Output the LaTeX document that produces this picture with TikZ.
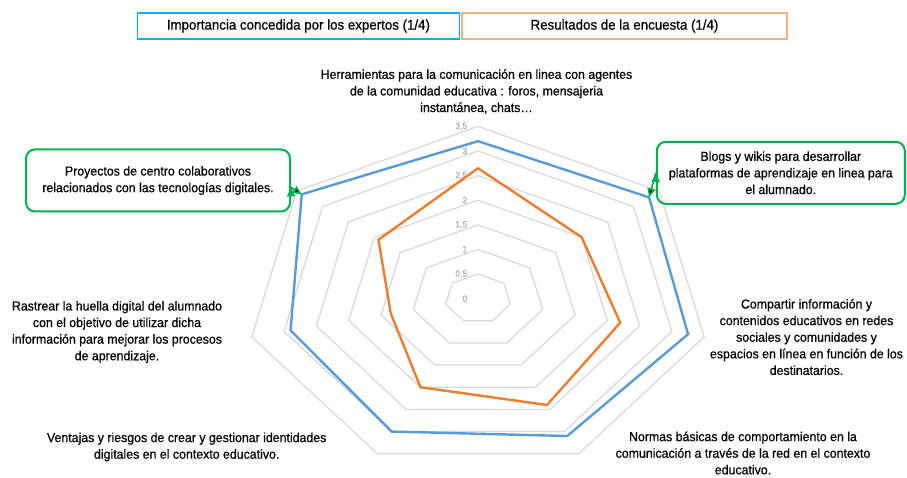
\documentclass[tikz,border=0pt]{standalone}
\usepackage{fontspec}
\setmainfont{Liberation Sans}[FakeStretch=0.95, FakeBold=0.6]
\usetikzlibrary{arrows.meta}
\definecolor{serieblue}{RGB}{91,155,213}
\definecolor{serieorange}{RGB}{237,125,49}
\definecolor{legblue}{RGB}{0,176,240}
\definecolor{legorange}{RGB}{244,177,131}
\definecolor{callgreen}{RGB}{0,176,80}
\definecolor{gridgray}{RGB}{217,217,217}
\begin{document}
\begin{tikzpicture}[x=1pt,y=-1pt,
        lbl/.style={align=center, inner sep=0pt, font=\fontsize{13}{16.6}\selectfont},
        legbox/.style={draw, line width=1.5pt, minimum height=26pt, font=\fontsize{14}{16}\selectfont},
        callbox/.style={draw=callgreen, line width=2pt, rounded corners=9pt, minimum height=62pt, align=center, font=\fontsize{13}{16.6}\selectfont},
        callarrow/.style={draw=callgreen, line width=1.6pt, -{Triangle[length=9pt,width=8pt]}},
        ring/.style={draw=gridgray, line width=1.3pt},
        ringtxt/.style={anchor=east, inner sep=0pt, text=gray!65, font=\fontsize{9}{10}\selectfont},
        serie/.style={line width=2.4pt, line join=miter}]
    \useasboundingbox (0,0) rectangle (907,478);

    \node[legbox, draw=legblue, minimum width=322pt]   (EXP) at (298.4,26) {Importancia concedida por los expertos (1/4)};
    \node[legbox, draw=legorange, minimum width=325pt] (ENC) at (624.5,26) {Resultados de la encuesta (1/4)};

    \begin{scope}[shift={(478,298.6)}, x=66.3pt, y=49.2pt]
        \foreach \r in {0.5,1,...,3.5}
            \draw[ring] (90:\r) \foreach \k in {1,...,6} { -- ({90-\k*360/7}:\r) } -- cycle;
        \foreach \r/\t in {0/0, 0.5/{0,5}, 1/1, 1.5/{1,5}, 2/2, 2.5/{2,5}, 3/3, 3.5/{3,5}}
            \node[ringtxt] (R\r) at (-0.16,\r) {\t};

        \foreach \v [count=\k from 0] in {2.65,2.0,2.2,2.4,2.0,1.35,1.92}
            \coordinate (o\k) at ({90-\k*360/7}:\v);
        \foreach \v [count=\k from 0] in {3.2,3.3,3.25,3.1,3.0,2.9,3.4}
            \coordinate (b\k) at ({90-\k*360/7}:\v);
        \draw[serie, serieorange] (o0) -- (o1) -- (o2) -- (o3) -- (o4) -- (o5) -- (o6) -- cycle;
        \draw[serie, serieblue]   (b0) -- (b1) -- (b2) -- (b3) -- (b4) -- (b5) -- (b6) -- cycle;
    \end{scope}

    \node[lbl] (HERR) at (476.5,91.5) {Herramientas para la comunicación en linea con agentes\\de la comunidad educativa : foros, mensajeria\\instantánea, chats…};
    \node[callbox, minimum width=248pt] (BLOG) at (780.8,172.8) {Blogs y wikis para desarrollar\\plataformas de aprendizaje en linea para\\el alumnado.};
    \node[lbl] (COMP) at (806.5,337) {Compartir información y\\contenidos educativos en redes\\sociales y comunidades y\\espacios en línea en función de los\\destinatarios.};
    \node[lbl] (NORM) at (743,453) {Normas básicas de comportamiento en la\\comunicación a través de la red en el contexto\\educativo.};
    \node[lbl] (VENT) at (186.7,447) {Ventajas y riesgos de crear y gestionar identidades\\digitales en el contexto educativo.};
    \node[lbl] (RAST) at (117,332) {Rastrear la huella digital del alumnado\\con el objetivo de utilizar dicha\\información para mejorar los procesos\\de aprendizaje.};
    \node[callbox, minimum width=264pt] (PROY) at (158,180.5) {Proyectos de centro colaborativos\\relacionados con las tecnologías digitales.};

    \path[callarrow] (PROY.-3) edge (b6);
    \path[callarrow] (BLOG.west) edge (b1);
\end{tikzpicture}
\end{document}
